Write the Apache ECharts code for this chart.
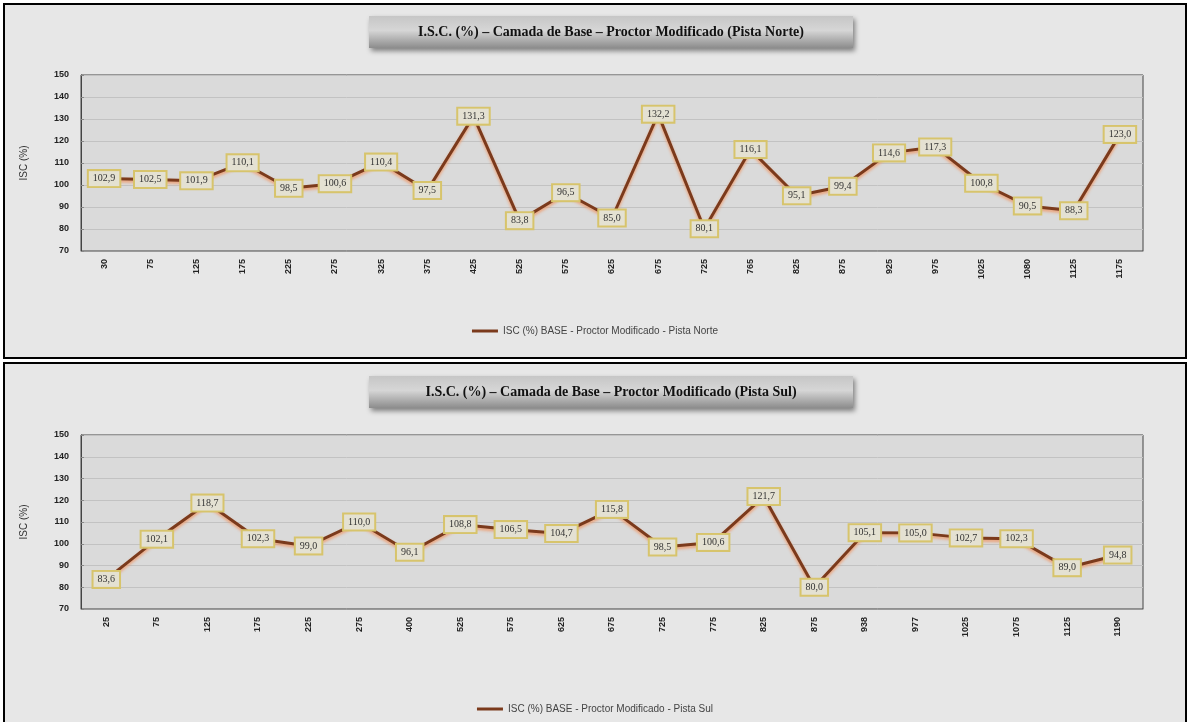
<!DOCTYPE html>
<html>
<head>
<meta charset="utf-8">
<script src="https://cdn.jsdelivr.net/npm/echarts@6/dist/echarts.min.js"></script>
<style>
  html, body { margin: 0; padding: 0; background: #ffffff; width: 1189px; height: 722px; overflow: hidden; }
  .panel { position: absolute; left: 3px; width: 1180px; border: 2px solid #000; background: #e7e7e7; }
  #norte { top: 3px; height: 352px; }
  #sul { top: 362px; height: 370px; }
</style>
</head>
<body>
<div id="norte" class="panel"></div>
<div id="sul" class="panel"></div>
<script>
// Estacas (m) e valores de I.S.C. (%) – Pista Norte
const estacasNorte = ['30','75','125','175','225','275','325','375','425','525','575','625','675','725','765','825','875','925','975','1025','1080','1125','1175'];
const iscNorte = [102.9, 102.5, 101.9, 110.1, 98.5, 100.6, 110.4, 97.5, 131.3, 83.8, 96.5, 85.0, 132.2, 80.1, 116.1, 95.1, 99.4, 114.6, 117.3, 100.8, 90.5, 88.3, 123.0];

// Estacas (m) e valores de I.S.C. (%) – Pista Sul
const estacasSul = ['25','75','125','175','225','275','400','525','575','625','675','725','775','825','875','938','977','1025','1075','1125','1190'];
const iscSul = [83.6, 102.1, 118.7, 102.3, 99.0, 110.0, 96.1, 108.8, 106.5, 104.7, 115.8, 98.5, 100.6, 121.7, 80.0, 105.1, 105.0, 102.7, 102.3, 89.0, 94.8];

// Eixo Y
const yMin = 70, yMax = 150, yStep = 10;

const tituloNorte = 'I.S.C. (%) – Camada de Base – Proctor Modificado (Pista Norte)';
const tituloSul = 'I.S.C. (%) – Camada de Base – Proctor Modificado (Pista Sul)';
const legendaNorte = 'ISC (%) BASE - Proctor Modificado - Pista Norte';
const legendaSul = 'ISC (%) BASE - Proctor Modificado - Pista Sul';

function fmt(v) { return v.toFixed(1).replace('.', ','); }

function desenhar(el, cats, vals, titulo, legenda, layout) {
  const chart = echarts.init(el, null, { renderer: 'canvas' });
  chart.setOption({
    backgroundColor: '#e7e7e7',
    animation: false,
    graphic: [
      {
        type: 'group', left: 364, top: layout.titleTop,
        children: [
          { type: 'rect', shape: { x: 0, y: 0, width: 484, height: 32 },
            style: {
              fill: new echarts.graphic.LinearGradient(0, 0, 0, 1, [
                { offset: 0, color: '#c6c6c6' },
                { offset: 0.45, color: '#d6d6d6' },
                { offset: 1, color: '#8c8c8c' }
              ]),
              shadowColor: 'rgba(0,0,0,0.45)', shadowBlur: 5, shadowOffsetX: 2, shadowOffsetY: 3
            } },
          { type: 'text', x: 242, y: 16,
            style: { text: titulo, fill: '#111', font: 'bold 14px "Liberation Serif"', align: 'center', verticalAlign: 'middle' } }
        ]
      }
    ],
    legend: {
      top: layout.legendTop, left: 'center',
      itemWidth: 26, itemHeight: 3, icon: 'rect',
      textStyle: { fontFamily: 'Liberation Sans', fontSize: 10, color: '#444' },
      data: [legenda]
    },
    grid: {
      left: 76, right: 42, top: layout.gridTop, height: layout.gridHeight,
      show: true, backgroundColor: '#dadada', borderColor: '#444', borderWidth: 1
    },
    xAxis: {
      type: 'category', data: cats, boundaryGap: true,
      axisLine: { lineStyle: { color: '#999' } },
      axisTick: { show: false },
      axisLabel: { rotate: 90, fontFamily: 'Liberation Sans', fontWeight: 'bold', fontSize: 9, color: '#222', margin: 8 }
    },
    yAxis: {
      type: 'value', min: yMin, max: yMax, interval: yStep,
      name: 'ISC (%)', nameLocation: 'middle', nameGap: 52, nameRotate: 90,
      nameTextStyle: { fontFamily: 'Liberation Sans', fontSize: 10, color: '#333' },
      axisLine: { show: true, lineStyle: { color: '#444' } },
      axisTick: { show: true, length: 3, inside: true, lineStyle: { color: '#888' } },
      axisLabel: { fontFamily: 'Liberation Sans', fontWeight: 'bold', fontSize: 9, color: '#222', margin: 12 },
      splitLine: { lineStyle: { color: '#c2c2c2', width: 1 } }
    },
    series: [{
      name: legenda, type: 'line', data: vals,
      symbol: 'circle', symbolSize: 0,
      lineStyle: { color: '#7b3a1c', width: 3, shadowColor: 'rgba(240,150,100,0.9)', shadowBlur: 3, shadowOffsetY: 2 },
      itemStyle: { color: '#7b3a1c' },
      label: {
        show: true, position: 'inside',
        formatter: p => fmt(p.value),
        fontFamily: 'Liberation Serif', fontSize: 10, color: '#333',
        backgroundColor: '#e4e1d2', borderColor: '#d7c46c', borderWidth: 2,
        padding: [3, 4, 2, 4]
      },
      emphasis: { disabled: true }
    }]
  });
}

desenhar(document.getElementById('norte'), estacasNorte, iscNorte, tituloNorte, legendaNorte,
  { titleTop: 11, gridTop: 70, gridHeight: 176, legendTop: 316 });
desenhar(document.getElementById('sul'), estacasSul, iscSul, tituloSul, legendaSul,
  { titleTop: 12, gridTop: 71, gridHeight: 174, legendTop: 335 });
</script>
</body>
</html>
